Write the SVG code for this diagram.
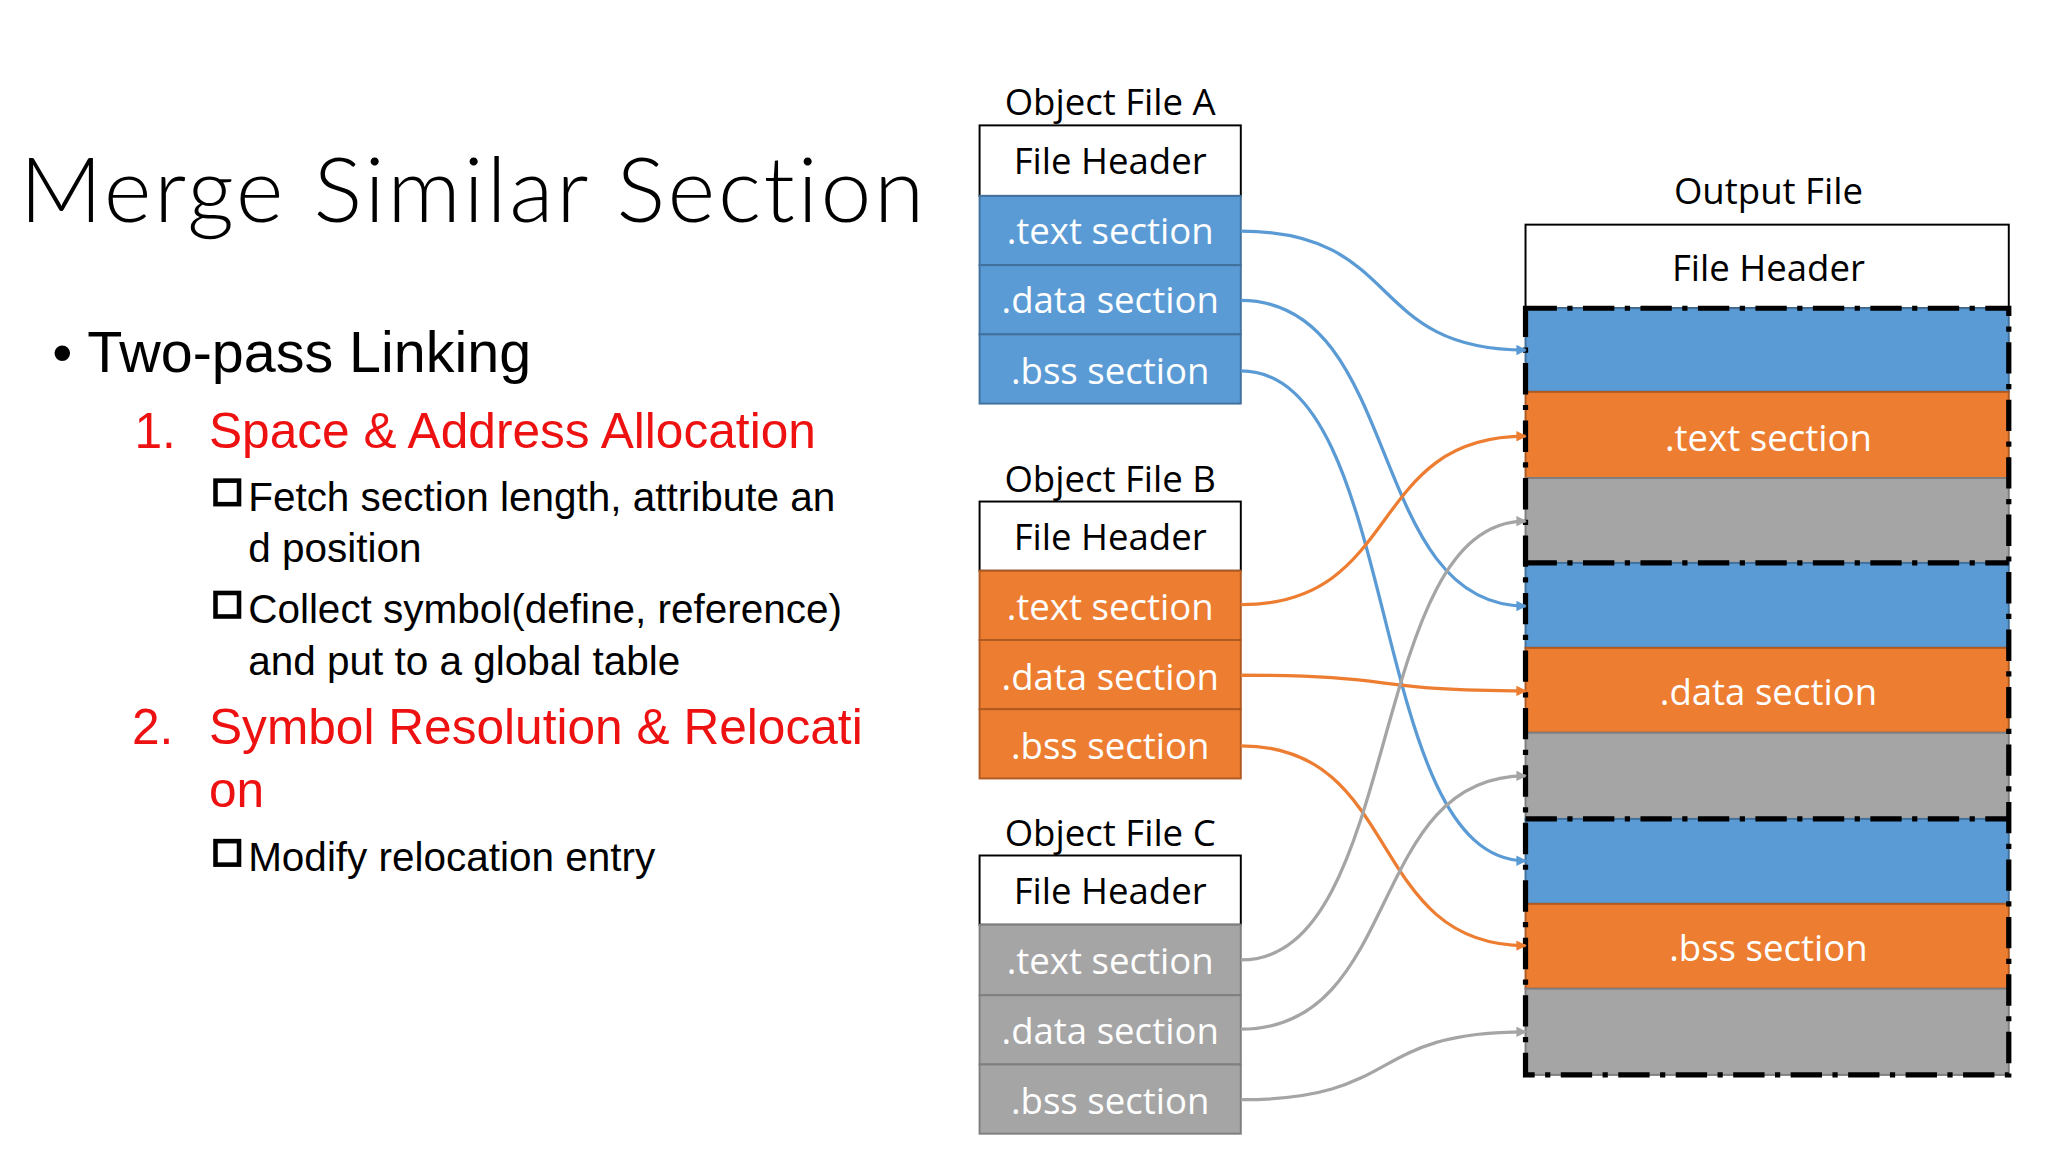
<svg xmlns="http://www.w3.org/2000/svg" width="2048" height="1152" viewBox="0 0 2048 1152">
<defs>
<style>
.t{font-family:"Open Sans","Liberation Sans",sans-serif;font-size:28px;text-anchor:middle}
.w{fill:#ffffff}
.b{fill:#5B9BD5;stroke:#41719C;stroke-width:1.5}
.o{fill:#ED7D31;stroke:#AE5A21;stroke-width:1.5}
.g{fill:#A5A5A5;stroke:#7F7F7F;stroke-width:1.5}
.h{fill:#fff;stroke:#000;stroke-width:1.5}
.l{font-family:"Liberation Sans",Arial,sans-serif;font-size:31px;fill:#000}
.r{font-family:"Liberation Sans",Arial,sans-serif;font-size:38px;fill:#EE1111}
.cb{fill:none;stroke:#000;stroke-width:3.5}
.cn{fill:none;stroke-width:2.5}
</style>
<marker id="ab" markerWidth="8" markerHeight="8" refX="7" refY="4" orient="auto" markerUnits="userSpaceOnUse"><path d="M0,0 L8,4 L0,8 Z" fill="#5B9BD5"/></marker>
<marker id="ao" markerWidth="8" markerHeight="8" refX="7" refY="4" orient="auto" markerUnits="userSpaceOnUse"><path d="M0,0 L8,4 L0,8 Z" fill="#ED7D31"/></marker>
<marker id="ag" markerWidth="8" markerHeight="8" refX="7" refY="4" orient="auto" markerUnits="userSpaceOnUse"><path d="M0,0 L8,4 L0,8 Z" fill="#A5A5A5"/></marker>
</defs>
<rect width="2048" height="1152" fill="#fff"/>
<g transform="scale(1.3061)">
<g id="text-left">
<text x="15" y="170" font-family="Lato,'Liberation Sans',sans-serif" font-weight="300" font-size="70" letter-spacing="2">Merge Similar Section</text>
<text x="40" y="285" font-family="'Liberation Sans',Arial,sans-serif" font-size="44">• Two-pass Linking</text>
<text x="103" y="343" class="r">1.</text><text x="160" y="343" class="r">Space &amp; Address Allocation</text>
<rect x="165" y="368" width="18" height="18" class="cb"/>
<text x="190" y="391" class="l">Fetch section length, attribute an</text>
<text x="190" y="430" class="l">d position</text>
<rect x="165" y="454" width="18" height="18" class="cb"/>
<text x="190" y="477" class="l">Collect symbol(define, reference)</text>
<text x="190" y="517" class="l">and put to a global table</text>
<text x="101" y="570" class="r">2.</text><text x="160" y="570" class="r">Symbol Resolution &amp; Relocati</text>
<text x="160" y="618" class="r">on</text>
<rect x="165" y="644" width="18" height="18" class="cb"/>
<text x="190" y="667" class="l">Modify relocation entry</text>
</g>
<g id="objA">
<text x="850" y="88" class="t">Object File A</text>
<rect x="750" y="96" width="200" height="54" class="h"/><text x="850" y="133" class="t">File Header</text>
<rect x="750" y="150" width="200" height="53" class="b"/><text x="850" y="187" class="t w">.text section</text>
<rect x="750" y="203" width="200" height="53" class="b"/><text x="850" y="240" class="t w">.data section</text>
<rect x="750" y="256" width="200" height="53" class="b"/><text x="850" y="294" class="t w">.bss section</text>
</g>
<g id="objB">
<text x="850" y="377" class="t">Object File B</text>
<rect x="750" y="384" width="200" height="53" class="h"/><text x="850" y="421" class="t">File Header</text>
<rect x="750" y="437" width="200" height="53" class="o"/><text x="850" y="475" class="t w">.text section</text>
<rect x="750" y="490" width="200" height="53" class="o"/><text x="850" y="528" class="t w">.data section</text>
<rect x="750" y="543" width="200" height="53" class="o"/><text x="850" y="581" class="t w">.bss section</text>
</g>
<g id="objC">
<text x="850" y="648" class="t">Object File C</text>
<rect x="750" y="655" width="200" height="53" class="h"/><text x="850" y="692" class="t">File Header</text>
<rect x="750" y="708" width="200" height="54" class="g"/><text x="850" y="746" class="t w">.text section</text>
<rect x="750" y="762" width="200" height="53" class="g"/><text x="850" y="799" class="t w">.data section</text>
<rect x="750" y="815" width="200" height="53" class="g"/><text x="850" y="853" class="t w">.bss section</text>
</g>
<g id="output">
<text x="1354" y="156" class="t">Output File</text>
<rect x="1168" y="172" width="370" height="64" class="h"/><text x="1354" y="215" class="t">File Header</text>
<rect x="1168" y="236" width="370" height="64" class="b"/>
<rect x="1168" y="300" width="370" height="66" class="o"/><text x="1354" y="345" class="t w">.text section</text>
<rect x="1168" y="366" width="370" height="65" class="g"/>
<rect x="1168" y="431" width="370" height="65" class="b"/>
<rect x="1168" y="496" width="370" height="65" class="o"/><text x="1354" y="540" class="t w">.data section</text>
<rect x="1168" y="561" width="370" height="66" class="g"/>
<rect x="1168" y="627" width="370" height="65" class="b"/>
<rect x="1168" y="692" width="370" height="65" class="o"/><text x="1354" y="736" class="t w">.bss section</text>
<rect x="1168" y="757" width="370" height="66" class="g"/>
<g fill="none" stroke="#000" stroke-width="4" stroke-dasharray="24,8,4,8">
<rect x="1168" y="236" width="370" height="587"/>
<line x1="1168" y1="431" x2="1538" y2="431"/>
<line x1="1168" y1="627" x2="1538" y2="627"/>
</g>
</g>
<g id="connectors">
<path class="cn" stroke="#5B9BD5" marker-end="url(#ab)" d="M950,177 C1075,177 1045,268 1168,268"/>
<path class="cn" stroke="#5B9BD5" marker-end="url(#ab)" d="M950,230 C1075,230 1045,464 1168,464"/>
<path class="cn" stroke="#5B9BD5" marker-end="url(#ab)" d="M950,284 C1075,284 1045,659 1168,659"/>
<path class="cn" stroke="#ED7D31" marker-end="url(#ao)" d="M950,463 C1075,463 1045,334 1168,334"/>
<path class="cn" stroke="#ED7D31" marker-end="url(#ao)" d="M950,517 C1075,517 1045,529 1168,529"/>
<path class="cn" stroke="#ED7D31" marker-end="url(#ao)" d="M950,571 C1075,571 1045,724 1168,724"/>
<path class="cn" stroke="#A5A5A5" marker-end="url(#ag)" d="M950,735 C1075,735 1045,399 1168,399"/>
<path class="cn" stroke="#A5A5A5" marker-end="url(#ag)" d="M950,788 C1075,788 1045,594 1168,594"/>
<path class="cn" stroke="#A5A5A5" marker-end="url(#ag)" d="M950,842 C1075,842 1045,790 1168,790"/>
</g>
</g>
</svg>
